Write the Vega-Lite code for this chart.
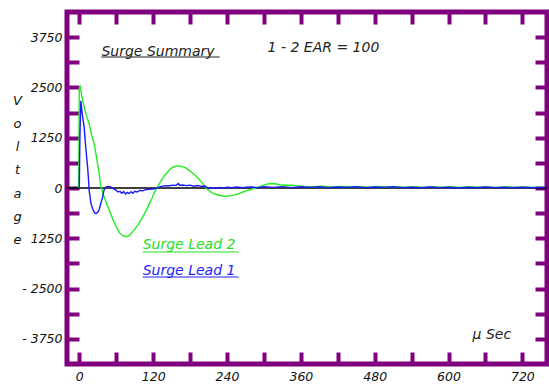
{
  "$schema": "https://vega.github.io/schema/vega-lite/v6.json",
  "width": 480,
  "height": 352,
  "autosize": "none",
  "padding": {"left": 67, "top": 12, "right": 2, "bottom": 21},
  "background": "white",
  "config": {
    "view": {"stroke": "#800080", "strokeWidth": 5},
    "axis": {"grid": false, "domain": false, "tickColor": "#800080", "tickWidth": 4, "tickSize": -12, "labelFont": "DejaVu Sans", "labelFontStyle": "italic", "labelFontSize": 12.5, "labelColor": "#111", "labelPadding": 17}
  },
  "datasets": {
    "zero": [{"t0": -20, "t1": 760, "v": 0}],
    "curves": [
      {"t": -1, "v": 0, "s": "Surge Lead 2"}, {"t": 0, "v": 2480, "s": "Surge Lead 2"}, {"t": 1.5, "v": 2520, "s": "Surge Lead 2"}, {"t": 4, "v": 2300, "s": "Surge Lead 2"}, {"t": 8, "v": 2000, "s": "Surge Lead 2"}, {"t": 12, "v": 1780, "s": "Surge Lead 2"}, {"t": 16, "v": 1600, "s": "Surge Lead 2"}, {"t": 20, "v": 1320, "s": "Surge Lead 2"}, {"t": 24, "v": 1100, "s": "Surge Lead 2"}, {"t": 28, "v": 760, "s": "Surge Lead 2"}, {"t": 32, "v": 380, "s": "Surge Lead 2"}, {"t": 35, "v": 30, "s": "Surge Lead 2"}, {"t": 40, "v": -200, "s": "Surge Lead 2"}, {"t": 45, "v": -420, "s": "Surge Lead 2"}, {"t": 49, "v": -560, "s": "Surge Lead 2"}, {"t": 55, "v": -800, "s": "Surge Lead 2"}, {"t": 60, "v": -960, "s": "Surge Lead 2"}, {"t": 65, "v": -1110, "s": "Surge Lead 2"}, {"t": 70, "v": -1180, "s": "Surge Lead 2"}, {"t": 76, "v": -1210, "s": "Surge Lead 2"}, {"t": 80, "v": -1195, "s": "Surge Lead 2"}, {"t": 85, "v": -1120, "s": "Surge Lead 2"}, {"t": 90, "v": -1030, "s": "Surge Lead 2"}, {"t": 97, "v": -880, "s": "Surge Lead 2"}, {"t": 103, "v": -720, "s": "Surge Lead 2"}, {"t": 108, "v": -580, "s": "Surge Lead 2"}, {"t": 113, "v": -420, "s": "Surge Lead 2"}, {"t": 118, "v": -260, "s": "Surge Lead 2"}, {"t": 122, "v": -110, "s": "Surge Lead 2"}, {"t": 126, "v": 0, "s": "Surge Lead 2"}, {"t": 132, "v": 160, "s": "Surge Lead 2"}, {"t": 138, "v": 300, "s": "Surge Lead 2"}, {"t": 145, "v": 420, "s": "Surge Lead 2"}, {"t": 151, "v": 510, "s": "Surge Lead 2"}, {"t": 157, "v": 540, "s": "Surge Lead 2"}, {"t": 162, "v": 550, "s": "Surge Lead 2"}, {"t": 168, "v": 530, "s": "Surge Lead 2"}, {"t": 173, "v": 500, "s": "Surge Lead 2"}, {"t": 178, "v": 445, "s": "Surge Lead 2"}, {"t": 185, "v": 360, "s": "Surge Lead 2"}, {"t": 190, "v": 290, "s": "Surge Lead 2"}, {"t": 194, "v": 230, "s": "Surge Lead 2"}, {"t": 200, "v": 120, "s": "Surge Lead 2"}, {"t": 207, "v": -20, "s": "Surge Lead 2"}, {"t": 213, "v": -90, "s": "Surge Lead 2"}, {"t": 220, "v": -150, "s": "Surge Lead 2"}, {"t": 227, "v": -180, "s": "Surge Lead 2"}, {"t": 233, "v": -200, "s": "Surge Lead 2"}, {"t": 240, "v": -205, "s": "Surge Lead 2"}, {"t": 247, "v": -190, "s": "Surge Lead 2"}, {"t": 253, "v": -170, "s": "Surge Lead 2"}, {"t": 259, "v": -140, "s": "Surge Lead 2"}, {"t": 266, "v": -100, "s": "Surge Lead 2"}, {"t": 271, "v": -70, "s": "Surge Lead 2"}, {"t": 276, "v": -50, "s": "Surge Lead 2"}, {"t": 284, "v": -10, "s": "Surge Lead 2"}, {"t": 292, "v": 25, "s": "Surge Lead 2"}, {"t": 300, "v": 70, "s": "Surge Lead 2"}, {"t": 306, "v": 100, "s": "Surge Lead 2"}, {"t": 313, "v": 110, "s": "Surge Lead 2"}, {"t": 320, "v": 100, "s": "Surge Lead 2"}, {"t": 326, "v": 80, "s": "Surge Lead 2"}, {"t": 335, "v": 70, "s": "Surge Lead 2"}, {"t": 345, "v": 70, "s": "Surge Lead 2"}, {"t": 352, "v": 60, "s": "Surge Lead 2"}, {"t": 365, "v": 40, "s": "Surge Lead 2"}, {"t": 380, "v": 30, "s": "Surge Lead 2"}, {"t": 395, "v": 45, "s": "Surge Lead 2"}, {"t": 410, "v": 25, "s": "Surge Lead 2"}, {"t": 425, "v": 40, "s": "Surge Lead 2"}, {"t": 440, "v": 30, "s": "Surge Lead 2"}, {"t": 455, "v": 35, "s": "Surge Lead 2"}, {"t": 470, "v": 20, "s": "Surge Lead 2"}, {"t": 485, "v": 40, "s": "Surge Lead 2"}, {"t": 500, "v": 25, "s": "Surge Lead 2"}, {"t": 515, "v": 35, "s": "Surge Lead 2"}, {"t": 530, "v": 20, "s": "Surge Lead 2"}, {"t": 545, "v": 30, "s": "Surge Lead 2"}, {"t": 560, "v": 15, "s": "Surge Lead 2"}, {"t": 575, "v": 35, "s": "Surge Lead 2"}, {"t": 590, "v": 20, "s": "Surge Lead 2"}, {"t": 605, "v": 30, "s": "Surge Lead 2"}, {"t": 620, "v": 15, "s": "Surge Lead 2"}, {"t": 635, "v": 30, "s": "Surge Lead 2"}, {"t": 650, "v": 20, "s": "Surge Lead 2"}, {"t": 665, "v": 25, "s": "Surge Lead 2"}, {"t": 680, "v": 15, "s": "Surge Lead 2"}, {"t": 695, "v": 30, "s": "Surge Lead 2"}, {"t": 710, "v": 20, "s": "Surge Lead 2"}, {"t": 725, "v": 25, "s": "Surge Lead 2"}, {"t": 740, "v": 15, "s": "Surge Lead 2"}, {"t": 757, "v": 20, "s": "Surge Lead 2"},
      {"t": 0, "v": 0, "s": "Surge Lead 1"}, {"t": 1, "v": 1300, "s": "Surge Lead 1"}, {"t": 2.5, "v": 2170, "s": "Surge Lead 1"}, {"t": 4, "v": 1950, "s": "Surge Lead 1"}, {"t": 6, "v": 1700, "s": "Surge Lead 1"}, {"t": 8, "v": 1500, "s": "Surge Lead 1"}, {"t": 10, "v": 1100, "s": "Surge Lead 1"}, {"t": 12, "v": 750, "s": "Surge Lead 1"}, {"t": 13.5, "v": 520, "s": "Surge Lead 1"}, {"t": 15, "v": 200, "s": "Surge Lead 1"}, {"t": 16, "v": -60, "s": "Surge Lead 1"}, {"t": 19, "v": -390, "s": "Surge Lead 1"}, {"t": 22, "v": -530, "s": "Surge Lead 1"}, {"t": 25, "v": -620, "s": "Surge Lead 1"}, {"t": 27, "v": -640, "s": "Surge Lead 1"}, {"t": 30, "v": -600, "s": "Surge Lead 1"}, {"t": 32, "v": -550, "s": "Surge Lead 1"}, {"t": 35, "v": -380, "s": "Surge Lead 1"}, {"t": 38, "v": -220, "s": "Surge Lead 1"}, {"t": 40, "v": -60, "s": "Surge Lead 1"}, {"t": 43, "v": 20, "s": "Surge Lead 1"}, {"t": 47, "v": 40, "s": "Surge Lead 1"}, {"t": 51, "v": 30, "s": "Surge Lead 1"}, {"t": 55, "v": -10, "s": "Surge Lead 1"}, {"t": 60, "v": -60, "s": "Surge Lead 1"}, {"t": 63, "v": -100, "s": "Surge Lead 1"}, {"t": 66, "v": -80, "s": "Surge Lead 1"}, {"t": 69, "v": -130, "s": "Surge Lead 1"}, {"t": 72, "v": -90, "s": "Surge Lead 1"}, {"t": 75, "v": -150, "s": "Surge Lead 1"}, {"t": 78, "v": -110, "s": "Surge Lead 1"}, {"t": 81, "v": -140, "s": "Surge Lead 1"}, {"t": 84, "v": -90, "s": "Surge Lead 1"}, {"t": 87, "v": -130, "s": "Surge Lead 1"}, {"t": 90, "v": -80, "s": "Surge Lead 1"}, {"t": 94, "v": -100, "s": "Surge Lead 1"}, {"t": 98, "v": -60, "s": "Surge Lead 1"}, {"t": 103, "v": -70, "s": "Surge Lead 1"}, {"t": 108, "v": -40, "s": "Surge Lead 1"}, {"t": 115, "v": -30, "s": "Surge Lead 1"}, {"t": 122, "v": -20, "s": "Surge Lead 1"}, {"t": 128, "v": 10, "s": "Surge Lead 1"}, {"t": 133, "v": 40, "s": "Surge Lead 1"}, {"t": 140, "v": 60, "s": "Surge Lead 1"}, {"t": 147, "v": 55, "s": "Surge Lead 1"}, {"t": 152, "v": 70, "s": "Surge Lead 1"}, {"t": 157, "v": 65, "s": "Surge Lead 1"}, {"t": 161, "v": 110, "s": "Surge Lead 1"}, {"t": 163, "v": 70, "s": "Surge Lead 1"}, {"t": 168, "v": 75, "s": "Surge Lead 1"}, {"t": 174, "v": 60, "s": "Surge Lead 1"}, {"t": 180, "v": 70, "s": "Surge Lead 1"}, {"t": 186, "v": 45, "s": "Surge Lead 1"}, {"t": 192, "v": 60, "s": "Surge Lead 1"}, {"t": 198, "v": 40, "s": "Surge Lead 1"}, {"t": 204, "v": 50, "s": "Surge Lead 1"}, {"t": 210, "v": -10, "s": "Surge Lead 1"}, {"t": 216, "v": 10, "s": "Surge Lead 1"}, {"t": 222, "v": -5, "s": "Surge Lead 1"}, {"t": 228, "v": 15, "s": "Surge Lead 1"}, {"t": 234, "v": 0, "s": "Surge Lead 1"}, {"t": 240, "v": 20, "s": "Surge Lead 1"}, {"t": 248, "v": 5, "s": "Surge Lead 1"}, {"t": 256, "v": 25, "s": "Surge Lead 1"}, {"t": 264, "v": 5, "s": "Surge Lead 1"}, {"t": 272, "v": 20, "s": "Surge Lead 1"}, {"t": 280, "v": 25, "s": "Surge Lead 1"}, {"t": 290, "v": 10, "s": "Surge Lead 1"}, {"t": 300, "v": 30, "s": "Surge Lead 1"}, {"t": 315, "v": 15, "s": "Surge Lead 1"}, {"t": 330, "v": 35, "s": "Surge Lead 1"}, {"t": 345, "v": 10, "s": "Surge Lead 1"}, {"t": 360, "v": 30, "s": "Surge Lead 1"}, {"t": 375, "v": 15, "s": "Surge Lead 1"}, {"t": 390, "v": 30, "s": "Surge Lead 1"}, {"t": 405, "v": 10, "s": "Surge Lead 1"}, {"t": 420, "v": 25, "s": "Surge Lead 1"}, {"t": 435, "v": 15, "s": "Surge Lead 1"}, {"t": 450, "v": 30, "s": "Surge Lead 1"}, {"t": 465, "v": 10, "s": "Surge Lead 1"}, {"t": 480, "v": 25, "s": "Surge Lead 1"}, {"t": 495, "v": 15, "s": "Surge Lead 1"}, {"t": 510, "v": 30, "s": "Surge Lead 1"}, {"t": 525, "v": 10, "s": "Surge Lead 1"}, {"t": 540, "v": 20, "s": "Surge Lead 1"}, {"t": 555, "v": 5, "s": "Surge Lead 1"}, {"t": 570, "v": 25, "s": "Surge Lead 1"}, {"t": 585, "v": 10, "s": "Surge Lead 1"}, {"t": 600, "v": 20, "s": "Surge Lead 1"}, {"t": 615, "v": 0, "s": "Surge Lead 1"}, {"t": 630, "v": 20, "s": "Surge Lead 1"}, {"t": 645, "v": 5, "s": "Surge Lead 1"}, {"t": 660, "v": 25, "s": "Surge Lead 1"}, {"t": 675, "v": 10, "s": "Surge Lead 1"}, {"t": 690, "v": 20, "s": "Surge Lead 1"}, {"t": 705, "v": 5, "s": "Surge Lead 1"}, {"t": 720, "v": 20, "s": "Surge Lead 1"}, {"t": 735, "v": 10, "s": "Surge Lead 1"}, {"t": 757, "v": 15, "s": "Surge Lead 1"}
    ],
    "labels": [
      {"t": 36, "v": 3380, "text": "Surge Summary", "c": "#222222"},
      {"t": 306, "v": 3480, "text": "1 - 2 EAR = 100", "c": "#222222"},
      {"t": 103, "v": -1417, "text": "Surge Lead 2", "c": "#22e022"},
      {"t": 103, "v": -2063, "text": "Surge Lead 1", "c": "#2222ff"},
      {"t": 639, "v": -3654, "text": "µ Sec", "c": "#222222"}
    ],
    "underlines": [
      {"t0": 36, "t1": 228, "v": 3256, "c": "#222222"},
      {"t0": 103, "t1": 259, "v": -1591, "c": "#22e022"},
      {"t0": 103, "t1": 259, "v": -2212, "c": "#2222ff"}
    ]
  },
  "resolve": {"axis": {"x": "independent", "y": "independent"}},
  "layer": [
    {
      "data": {"name": "zero"},
      "mark": {"type": "rule", "color": "black", "strokeWidth": 1.6},
      "encoding": {
        "x": {"field": "t0", "type": "quantitative", "scale": {"domain": [-20, 760], "nice": false, "zero": false},
          "axis": {"orient": "bottom", "title": null, "labelPadding": 18, "values": [0, 60, 120, 180, 240, 300, 360, 420, 480, 540, 600, 660, 720], "labelExpr": "datum.value % 120 == 0 ? datum.value + '' : ''", "labelDx": 5}},
        "x2": {"field": "t1"},
        "y": {"field": "v", "type": "quantitative", "scale": {"domain": [-4375, 4375], "nice": false, "zero": false},
          "axis": {"orient": "left", "labelPadding": 17, "values": [-3750, -3125, -2500, -1875, -1250, -625, 0, 625, 1250, 1875, 2500, 3125, 3750],
            "labelExpr": "datum.value == -3750 ? '- 3750' : datum.value == -2500 ? '- 2500' : datum.value == -1250 ? '1250' : (datum.value % 1250 == 0 ? datum.value + '' : '')",
            "title": ["V", "o", "l", "t", "a", "g", "e"], "titleAngle": 0, "titleFont": "DejaVu Sans", "titleFontStyle": "italic", "titleFontWeight": "normal", "titleFontSize": 13, "titleLineHeight": 23.3, "titleX": -50, "titleY": 82, "titleBaseline": "top", "titleAlign": "center", "titleColor": "#111"}}
      }
    },
    {
      "data": {"name": "curves"},
      "mark": {"type": "line", "strokeWidth": 1.4},
      "encoding": {
        "x": {"field": "t", "type": "quantitative", "axis": {"orient": "top", "labels": false, "title": null, "values": [0, 60, 120, 180, 240, 300, 360, 420, 480, 540, 600, 660, 720]}},
        "y": {"field": "v", "type": "quantitative", "axis": {"orient": "right", "labels": false, "title": null, "values": [-3750, -3125, -2500, -1875, -1250, -625, 0, 625, 1250, 1875, 2500, 3125, 3750]}},
        "color": {"field": "s", "type": "nominal", "scale": {"domain": ["Surge Lead 2", "Surge Lead 1"], "range": ["#22ee22", "#1a1aff"]}, "legend": null},
        "order": {"field": "t", "type": "quantitative"}
      }
    },
    {
      "data": {"name": "underlines"},
      "mark": {"type": "rule", "strokeWidth": 1.2},
      "encoding": {
        "x": {"field": "t0", "type": "quantitative", "axis": null},
        "x2": {"field": "t1"},
        "y": {"field": "v", "type": "quantitative", "axis": null},
        "color": {"field": "c", "type": "nominal", "scale": null}
      }
    },
    {
      "data": {"name": "labels"},
      "mark": {"type": "text", "align": "left", "baseline": "middle", "font": "DejaVu Sans", "fontStyle": "italic", "fontSize": 14},
      "encoding": {
        "x": {"field": "t", "type": "quantitative", "axis": null},
        "y": {"field": "v", "type": "quantitative", "axis": null},
        "text": {"field": "text"},
        "color": {"field": "c", "type": "nominal", "scale": null}
      }
    }
  ]
}
